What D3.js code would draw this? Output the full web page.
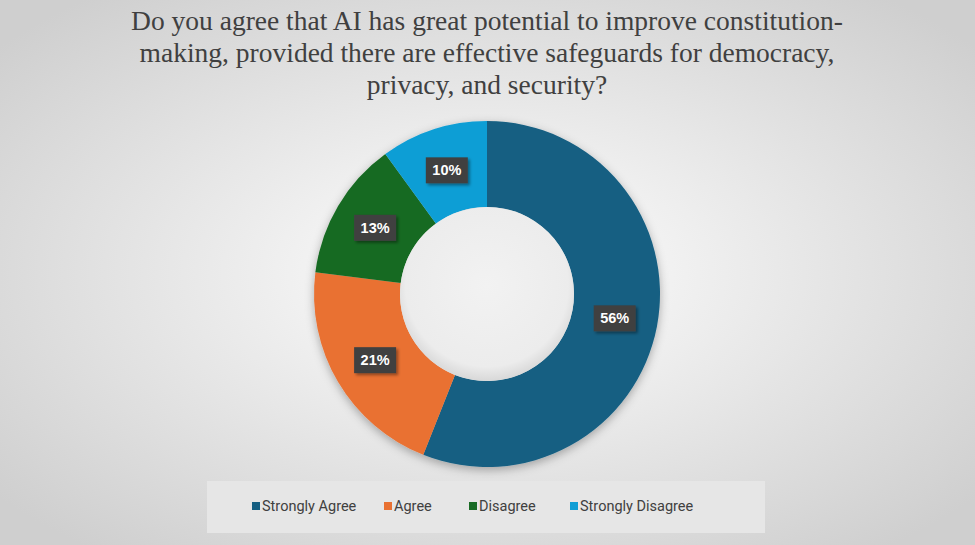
<!DOCTYPE html>
<html><head><meta charset="utf-8">
<script src="https://cdn.jsdelivr.net/npm/d3@7"></script>
<style>body{margin:0;overflow:hidden}</style></head>
<body><svg id="c" width="975" height="545"></svg>
<script>
const categories = ["Strongly Agree","Agree","Disagree","Strongly Disagree"];
const values = [56,21,13,10];
const colors = ["#155F82","#E97132","#196B24","#0F9ED5"];
const titleLines = ["Do you agree that AI has great potential to improve constitution-","making, provided there are effective safeguards for democracy,","privacy, and security?"];

const svg = d3.select("#c");
const defs = svg.append("defs");
const bg = defs.append("radialGradient").attr("id","bg").attr("cx","50%").attr("cy","50%").attr("r","65%");
bg.append("stop").attr("offset","0%").attr("stop-color","#ffffff");
bg.append("stop").attr("offset","100%").attr("stop-color","#cfcfcf");
const hole = defs.append("radialGradient").attr("id","hole").attr("cx","50%").attr("cy","45%").attr("r","55%");
hole.append("stop").attr("offset","0%").attr("stop-color","#f2f2f2");
hole.append("stop").attr("offset","85%").attr("stop-color","#ececec");
hole.append("stop").attr("offset","100%").attr("stop-color","#d8d8d8");
const sh = defs.append("filter").attr("id","sh").attr("x","-20%").attr("y","-20%").attr("width","150%").attr("height","150%");
sh.append("feDropShadow").attr("dx",2).attr("dy",2).attr("stdDeviation",1.5).attr("flood-opacity",0.4);
const sh2 = defs.append("filter").attr("id","sh2").attr("x","-10%").attr("y","-10%").attr("width","120%").attr("height","120%");
sh2.append("feDropShadow").attr("dx",0).attr("dy",3).attr("stdDeviation",5).attr("flood-opacity",0.3);

svg.append("rect").attr("width",975).attr("height",545).attr("fill","url(#bg)");

svg.append("text").attr("x",487).attr("y",30).attr("text-anchor","middle")
  .attr("font-family","Liberation Serif").attr("font-size",27.5).attr("fill","#404040")
  .selectAll("tspan").data(titleLines).join("tspan").attr("x",487).attr("dy",(d,i)=>i?32:0).text(d=>d);

const cx=487, cy=294, R=173, r=87;
const pie = d3.pie().sort(null).value(d=>d)(values);
const arc = d3.arc().innerRadius(r).outerRadius(R);
const g = svg.append("g").attr("transform",`translate(${cx},${cy})`);
g.append("g").attr("filter","url(#sh2)").selectAll("path").data(pie).join("path")
  .attr("d",arc).attr("fill",(d,i)=>colors[i]);
g.append("circle").attr("r",r).attr("fill","url(#hole)");

const lab = g.selectAll("g.l").data(pie).join("g").attr("transform",d=>`translate(${arc.centroid(d)})`);
lab.append("rect").attr("x",-21).attr("y",-13).attr("width",42).attr("height",26).attr("fill","#404040").attr("filter","url(#sh)");
lab.append("text").attr("text-anchor","middle").attr("dy","0.35em").attr("fill","#fff")
  .attr("font-family","Liberation Sans").attr("font-weight","bold").attr("font-size",14.5)
  .text(d=>d.data+"%");

svg.append("rect").attr("x",207).attr("y",481).attr("width",558).attr("height",52).attr("fill","#e6e6e6");
const lg = svg.selectAll("g.lg").data(categories).join("g").attr("transform",(d,i)=>`translate(${[252,384,469,570][i]},507)`);
lg.append("rect").attr("x",0).attr("y",-5).attr("width",8).attr("height",8).attr("fill",(d,i)=>colors[i]);
lg.append("text").attr("x",10).attr("dy","0.3em").attr("font-family","Roboto").attr("font-size",14.5).attr("fill","#404040").text(d=>d);
</script></body></html>
